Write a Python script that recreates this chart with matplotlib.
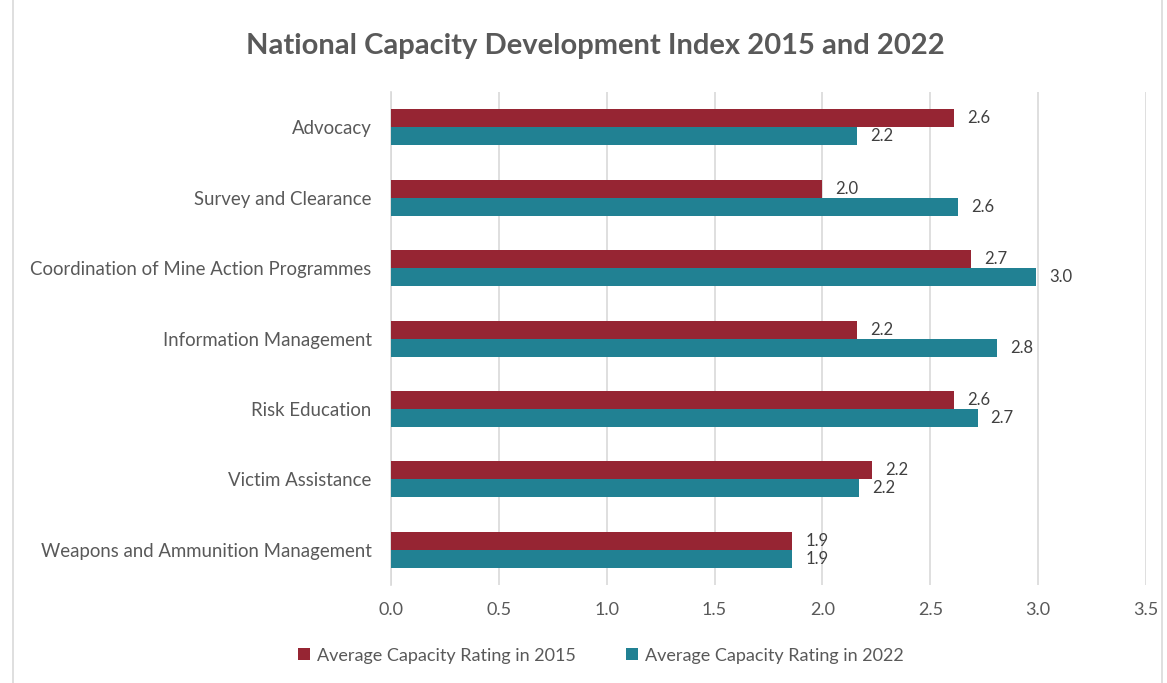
import matplotlib
matplotlib.use('Agg')
import matplotlib.pyplot as plt
import numpy as np
from matplotlib.patches import Rectangle

# ── Data ─────────────────────────────────────────────────────────────────────
categories = [
    'Advocacy',
    'Survey and Clearance',
    'Coordination of Mine Action Programmes',
    'Information Management',
    'Risk Education',
    'Victim Assistance',
    'Weapons and Ammunition Management',
]
rating_2015 = [2.61, 2.00, 2.69, 2.16, 2.61, 2.23, 1.86]
rating_2022 = [2.16, 2.63, 2.99, 2.81, 2.72, 2.17, 1.86]
series_names = ['Average Capacity Rating in 2015', 'Average Capacity Rating in 2022']
xticks = [0.0, 0.5, 1.0, 1.5, 2.0, 2.5, 3.0, 3.5]

# ── Style ────────────────────────────────────────────────────────────────────
RED = '#962533'
TEAL = '#218193'
TEXT = '#595959'
GRID = '#d9d9d9'

plt.rcParams['font.family'] = ['Lato', 'DejaVu Sans']

fig = plt.figure(figsize=(11.67, 6.83), dpi=100)
fig.patch.set_facecolor('white')
ax = fig.add_axes([0.335, 0.1435, 0.647, 0.7215])

y = np.arange(len(categories))
h = 0.256
ax.barh(y - h / 2, rating_2015, height=h, color=RED, label=series_names[0], zorder=3)
ax.barh(y + h / 2, rating_2022, height=h, color=TEAL, label=series_names[1], zorder=3)

for yi, v in zip(y, rating_2015):
    ax.text(v + 0.06, yi - h / 2, f'{v:.1f}', va='center', ha='left',
            fontsize=12, color='#404040')
for yi, v in zip(y, rating_2022):
    ax.text(v + 0.06, yi + h / 2, f'{v:.1f}', va='center', ha='left',
            fontsize=12, color='#404040')

ax.set_xlim(0, 3.5)
ax.set_ylim(len(categories) - 0.5, -0.5)
ax.set_yticks(y)
ax.set_yticklabels(categories, fontsize=13.4, color=TEXT)
ax.set_xticks(xticks)
ax.set_xticklabels([f'{t:.1f}' for t in xticks], fontsize=13, color=TEXT)
ax.tick_params(axis='both', length=0)
ax.tick_params(axis='y', pad=14)
ax.tick_params(axis='x', pad=12)
ax.grid(axis='x', color=GRID, linewidth=1.2, zorder=0)
for s in ['top', 'right', 'bottom']:
    ax.spines[s].set_visible(False)
ax.spines['left'].set_color(GRID)
ax.spines['left'].set_linewidth(1.2)

fig.text(0.51, 0.932, 'National Capacity Development Index 2015 and 2022',
         ha='center', va='center', fontsize=21, fontweight='bold', color=TEXT)

leg = fig.legend(loc='center', bbox_to_anchor=(0.515, 0.04), ncol=2, frameon=False,
                 fontsize=13, handlelength=0.65, handleheight=0.65, columnspacing=2.8,
                 handletextpad=0.4)
for t in leg.get_texts():
    t.set_color(TEXT)

# light frame around the chart area
fig.patches.append(Rectangle((0.011, -0.01), 0.985, 1.02, transform=fig.transFigure,
                             fill=False, edgecolor=GRID, linewidth=1.2))

fig.savefig('out.png', dpi=100, facecolor='white')
